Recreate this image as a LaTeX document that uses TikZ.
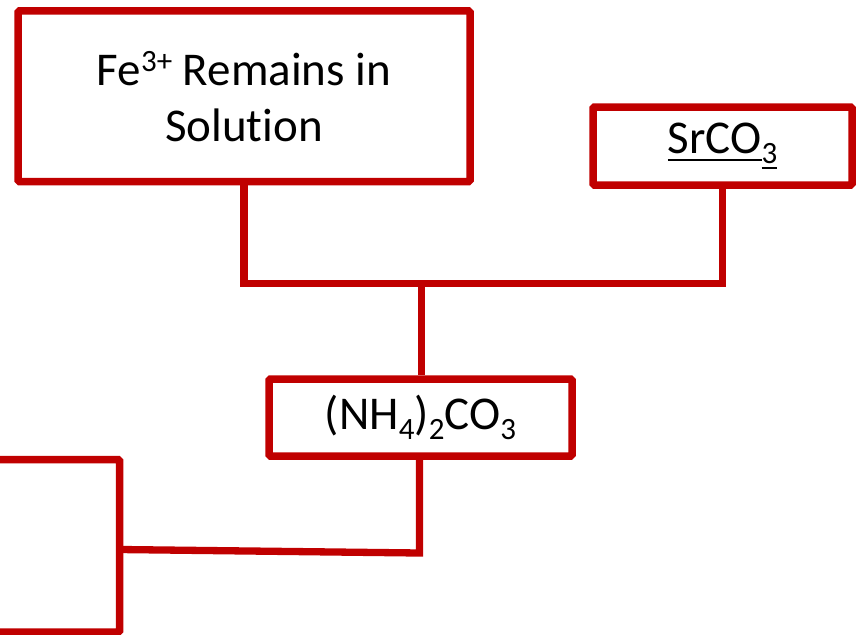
\documentclass[tikz,border=0pt]{standalone}
\usepackage{fontspec}
\setmainfont{Carlito}[Ligatures=NoCommon]
\definecolor{boxred}{RGB}{192,0,0}
% chemical sub- and superscripts
\newcommand\chsub[1]{\raisebox{-0.21em}{\fontsize{31}{31}\selectfont #1}}
\newcommand\chsup[1]{\raisebox{0.30em}{\fontsize{31}{31}\selectfont #1}}
% underline placed relative to the current font size
\newcommand\ulined[1]{\setbox0\hbox{#1}\rlap{\rule[-0.16em]{\wd0}{0.055em}}\box0}
\begin{document}
\begin{tikzpicture}[x=1pt,y=-1pt,
  box/.style={draw=boxred, line width=7.5pt, rounded corners=1.5pt, fill=white,
    inner sep=0pt, align=center, font=\fontsize{47}{56}\selectfont},
  link/.style={draw=boxred, line width=7.3pt, line join=miter}]
\useasboundingbox (0,0) rectangle (858,634);

% boxes
\node[box, minimum width=452pt, minimum height=170.5pt] (fe) at (244,96.25)
  {Fe\chsup{3+} Remains in\\Solution};
\node[box, minimum width=259pt, minimum height=78pt] (sr) at (722.5,146)
  {\ulined{SrCO}\chsub{\ulined{3}}};
\node[box, minimum width=303pt, minimum height=77pt] (nh) at (420.5,417.5)
  {(NH\chsub{4})\chsub{2}CO\chsub{3}};
\node[box, minimum width=270pt, minimum height=172.5pt] (low) at (-15.3,545.75) {};

% connectors
\coordinate (bus) at (421.5,283.5);
\coordinate (elbow) at (419.5,553);
\coordinate (tap) at (119.7,549.5);
\draw[link] (fe.south) |- (bus) -| (sr.south);
\draw[link] (bus) -- (bus |- nh.north);
\draw[link] (elbow |- nh.south) -- (elbow) -- (tap);
\end{tikzpicture}
\end{document}
